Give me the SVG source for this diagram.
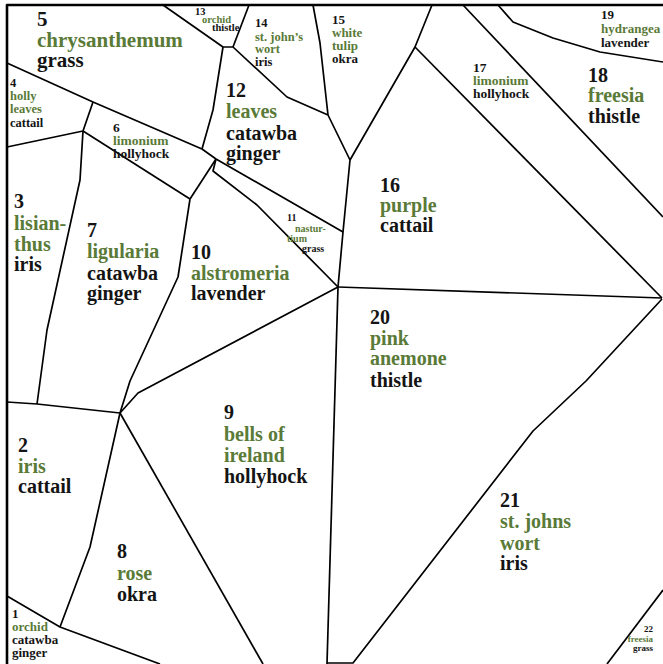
<svg xmlns="http://www.w3.org/2000/svg" width="663" height="664" viewBox="0 0 663 664">
<style>
.lbl text{font-weight:bold;fill:#141414}
.lbl .g{fill:#5a7a38}
.L{font-size:20px}
.M{font-size:13px}
.S{font-size:10.5px}
.T{font-size:9px}
#edges polyline{fill:none;stroke:#000;stroke-width:1.7;stroke-linejoin:round}
</style>
<rect width="663" height="664" fill="#fff"/>
<g id="edges">
<polyline points="7,664 7,5 663,5" style="stroke-width:2.6"/>
<polyline points="7,63 93,102 202,149 216,159 343,232"/>
<polyline points="7,147 83,131 93,102"/>
<polyline points="83,131 190,199"/>
<polyline points="83,131 80,180 47,330 37,404"/>
<polyline points="7,402 37,404 120,413"/>
<polyline points="216,159 190,199"/>
<polyline points="190,199 178,277 130,381 120,413"/>
<polyline points="216,159 213,171 257,205 338,287"/>
<polyline points="120,413 138,393 338,287"/>
<polyline points="120,413 90,547 60,627"/>
<polyline points="120,413 263,664"/>
<polyline points="7,596 60,627 160,664"/>
<polyline points="338,287 327,664"/>
<polyline points="327,663 353,663 533,431 586,381 662,299"/>
<polyline points="338,287 662,298"/>
<polyline points="338,287 343,232 350,160 328,115"/>
<polyline points="328,115 287,97 233,47 223,47"/>
<polyline points="223,47 213,110 202,149"/>
<polyline points="223,47 163,5"/>
<polyline points="233,47 249,5"/>
<polyline points="328,115 320,43 313,5"/>
<polyline points="350,160 415,47 432,5"/>
<polyline points="415,47 662,298"/>
<polyline points="463,5 663,217"/>
<polyline points="498,5 513,22 553,38 600,52 663,62"/>
<polyline points="663,590 607,664"/>
</g>
<g class="lbl" font-family="Liberation Serif, Times New Roman, DejaVu Serif, serif">
<g id="n1" class="M"><text x="12" y="618">1</text><text class="g" x="12" y="631">orchid</text><text x="12" y="644">catawba</text><text x="12" y="657">ginger</text></g>
<g id="n2" class="L"><text x="18" y="452">2</text><text class="g" x="18" y="473">iris</text><text x="18" y="493">cattail</text></g>
<g id="n3" class="L"><text x="14" y="208">3</text><text class="g" x="14" y="230">lisian-</text><text class="g" x="14" y="251">thus</text><text x="14" y="271">iris</text></g>
<g id="n4" style="font-size:12.5px"><text x="10" y="87">4</text><text class="g" x="10" y="100">holly</text><text class="g" x="10" y="113">leaves</text><text x="10" y="127">cattail</text></g>
<g id="n5" style="font-size:21px"><text x="37" y="26">5</text><text class="g" x="37" y="47">chrysanthemum</text><text x="37" y="67">grass</text></g>
<g id="n6" style="font-size:13.5px"><text x="113" y="132">6</text><text class="g" x="113" y="145">limonium</text><text x="113" y="158">hollyhock</text></g>
<g id="n7" class="L"><text x="87" y="237">7</text><text class="g" x="87" y="258">ligularia</text><text x="87" y="280">catawba</text><text x="87" y="300">ginger</text></g>
<g id="n8" class="L"><text x="117" y="558">8</text><text class="g" x="117" y="580">rose</text><text x="117" y="601">okra</text></g>
<g id="n9" class="L"><text x="224" y="419">9</text><text class="g" x="224" y="441">bells of</text><text class="g" x="224" y="462">ireland</text><text x="224" y="483">hollyhock</text></g>
<g id="n10" class="L"><text x="191" y="259">10</text><text class="g" x="191" y="280">alstromeria</text><text x="191" y="300">lavender</text></g>
<g id="n11" style="font-size:10px"><text x="287" y="221">11</text><text class="g" x="295" y="232">nastur-</text><text class="g" x="287" y="242">tium</text><text x="302" y="252">grass</text></g>
<g id="n12" class="L"><text x="226" y="97">12</text><text class="g" x="226" y="118">leaves</text><text x="226" y="140">catawba</text><text x="226" y="160">ginger</text></g>
<g id="n13" class="S"><text x="195" y="15">13</text><text class="g" x="202" y="23">orchid</text><text x="212" y="31">thistle</text></g>
<g id="n14" style="font-size:12.5px"><text x="255" y="27">14</text><text class="g" x="255" y="41">st. john’s</text><text class="g" x="255" y="53">wort</text><text x="255" y="66">iris</text></g>
<g id="n15" class="M"><text x="332" y="24">15</text><text class="g" x="332" y="37">white</text><text class="g" x="332" y="50">tulip</text><text x="332" y="63">okra</text></g>
<g id="n16" class="L"><text x="380" y="192">16</text><text class="g" x="380" y="212">purple</text><text x="380" y="232">cattail</text></g>
<g id="n17" style="font-size:13.5px"><text x="473" y="72">17</text><text class="g" x="473" y="85">limonium</text><text x="473" y="98">hollyhock</text></g>
<g id="n18" class="L"><text x="588" y="82">18</text><text class="g" x="588" y="102">freesia</text><text x="588" y="123">thistle</text></g>
<g id="n19" style="font-size:13px"><text x="601" y="19">19</text><text class="g" x="601" y="33">hydrangea</text><text x="601" y="47">lavender</text></g>
<g id="n20" class="L"><text x="370" y="324">20</text><text class="g" x="370" y="345">pink</text><text class="g" x="370" y="365">anemone</text><text x="370" y="387">thistle</text></g>
<g id="n21" class="L"><text x="500" y="507">21</text><text class="g" x="500" y="528">st. johns</text><text class="g" x="500" y="550">wort</text><text x="500" y="570">iris</text></g>
<g id="n22" class="T" text-anchor="end"><text x="653" y="632">22</text><text class="g" x="653" y="642">freesia</text><text x="653" y="651">grass</text></g>
</g>
</svg>
